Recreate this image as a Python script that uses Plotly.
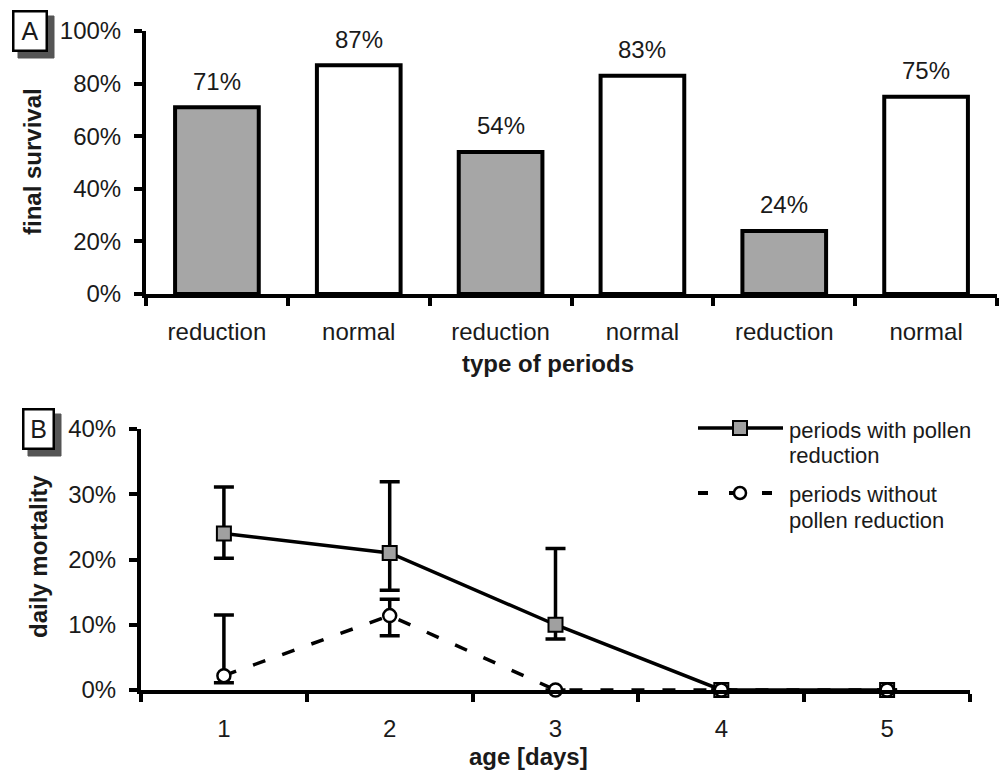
import plotly.graph_objects as go

# ---------- data ----------
bar_labels = ["reduction", "normal", "reduction", "normal", "reduction", "normal"]
bar_values = [71, 87, 54, 83, 24, 75]
bar_colors = ["#a6a6a6", "#ffffff", "#a6a6a6", "#ffffff", "#a6a6a6", "#ffffff"]

days = [1, 2, 3, 4, 5]
red_mean = [24.0, 21.0, 10.0, 0.0, 0.0]
red_upper = [31.1, 31.9, 21.7, None, None]
red_lower = [20.2, 15.3, 7.8, None, None]

norm_mean = [2.2, 11.4, 0.0, 0.0, 0.0]
norm_upper = [11.5, 13.9, None, None, None]
norm_lower = [1.1, 8.3, None, None, None]

W, H = 1006, 772
FONT = "Liberation Sans, Arial, sans-serif"
TXT = "#1a1a1a"
FS = 24
LW = 4


def px(x):
    return x / W


def py(y):
    return 1 - y / H


def err(mean, up, lo):
    plus = [(u - m) if u is not None else None for m, u in zip(mean, up)]
    minus = [(m - l) if l is not None else None for m, l in zip(mean, lo)]
    return plus, minus


fig = go.Figure()

# ---------- panel A ----------
xs = list(range(len(bar_values)))
fig.add_trace(go.Bar(
    x=xs, y=bar_values, width=0.59,
    marker=dict(color=bar_colors, line=dict(color="black", width=LW)),
    xaxis="x", yaxis="y", showlegend=False, hoverinfo="skip",
))

# ---------- panel B ----------
rp, rm = err(red_mean, red_upper, red_lower)
npl, nmi = err(norm_mean, norm_upper, norm_lower)

fig.add_trace(go.Scatter(
    x=days, y=red_mean, mode="lines+markers",
    line=dict(color="black", width=3.5),
    marker=dict(symbol="square", size=14, color="#a0a0a0",
                line=dict(color="black", width=2)),
    error_y=dict(type="data", symmetric=False, array=rp, arrayminus=rm,
                 thickness=3.5, width=10, color="black"),
    xaxis="x2", yaxis="y2", showlegend=False, cliponaxis=False,
))
fig.add_trace(go.Scatter(
    x=days, y=norm_mean, mode="lines+markers",
    line=dict(color="black", width=3.5, dash="13px,18px"),
    marker=dict(symbol="circle", size=13, color="white",
                line=dict(color="black", width=2.5)),
    error_y=dict(type="data", symmetric=False, array=npl, arrayminus=nmi,
                 thickness=3.5, width=10, color="black"),
    xaxis="x2", yaxis="y2", showlegend=False, cliponaxis=False,
))

tickfont = dict(family=FONT, size=FS, color=TXT)


def pann(x, y, text, **kw):
    d = dict(x=px(x), y=py(y), xref="paper", yref="paper", text=text,
             showarrow=False, xanchor="center", yanchor="middle",
             font=dict(family=FONT, size=FS, color=TXT))
    d.update(kw)
    return d


annotations = []
# bar value labels
for xi, v in zip(xs, bar_values):
    annotations.append(dict(
        x=xi, y=v, xref="x", yref="y", text=f"{v}%", showarrow=False,
        xanchor="center", yanchor="middle",
        yshift=26, font=dict(family=FONT, size=FS, color=TXT),
    ))

# axis titles
annotations += [
    pann(548, 363, "<b>type of periods</b>"),
    pann(33, 162, "<b>final survival</b>", textangle=-90),
    pann(528, 756, "<b>age [days]</b>"),
    pann(38, 557, "<b>daily mortality</b>", textangle=-90),
]

# panel letters in white bordered boxes
for (x0, y0, x1, y1, letter) in [(12, 10, 48, 52, "A"), (22, 408, 55, 450, "B")]:
    annotations.append(pann((x0 + x1) / 2, (y0 + y1) / 2, letter,
                            width=x1 - x0 - 5, height=y1 - y0 - 5,
                            bgcolor="white", bordercolor="black", borderwidth=2.5,
                            borderpad=0,
                            font=dict(family=FONT, size=25, color=TXT)))

# legend texts
leg_font = dict(family=FONT, size=22, color=TXT)
for txt, yy in [("periods with pollen", 430), ("reduction", 455),
                ("periods without", 495), ("pollen reduction", 520)]:
    annotations.append(pann(787, yy, txt, xanchor="left", font=leg_font))

shapes = []
# drop shadows of the panel letter boxes
for (x0, y0, x1, y1) in [(12, 10, 48, 52), (22, 408, 55, 450)]:
    shapes.append(dict(type="rect", xref="paper", yref="paper", layer="below",
                       x0=px(x0 + 6), x1=px(x1 + 6), y0=py(y1 + 6), y1=py(y0 + 6),
                       fillcolor="#555555", line=dict(color="#555555", width=1)))

# legend symbols
shapes += [
    dict(type="line", xref="paper", yref="paper", x0=px(698), x1=px(783),
         y0=py(428), y1=py(428), line=dict(color="black", width=3.5)),
    dict(type="rect", xref="paper", yref="paper", x0=px(733), x1=px(747),
         y0=py(435), y1=py(421), fillcolor="#a0a0a0", line=dict(color="black", width=2)),
    dict(type="line", xref="paper", yref="paper", x0=px(698), x1=px(708),
         y0=py(493), y1=py(493), line=dict(color="black", width=4)),
    dict(type="line", xref="paper", yref="paper", x0=px(729), x1=px(735),
         y0=py(493), y1=py(493), line=dict(color="black", width=4)),
    dict(type="line", xref="paper", yref="paper", x0=px(762), x1=px(772),
         y0=py(493), y1=py(493), line=dict(color="black", width=4)),
    dict(type="circle", xref="paper", yref="paper", x0=px(734), x1=px(746),
         y0=py(499), y1=py(487), fillcolor="white", line=dict(color="black", width=2.5)),
]

axis_common = dict(showgrid=False, zeroline=False, showline=True, linecolor="black",
                   linewidth=LW, tickfont=tickfont)

fig.update_layout(
    width=W, height=H,
    margin=dict(l=0, r=0, t=0, b=0, autoexpand=False),
    paper_bgcolor="white", plot_bgcolor="white",
    xaxis=dict(domain=[px(146), px(997)], range=[-0.5, 5.5], anchor="y",
               tickmode="array", tickvals=xs, ticktext=bar_labels, ticks="",
               ticklabelstandoff=13, automargin=False,
               minor=dict(tickmode="linear", tick0=-0.5, dtick=1, ticks="outside",
                          ticklen=8, tickwidth=LW, tickcolor="black"),
               **axis_common),
    yaxis=dict(domain=[py(294), py(31)], range=[0, 100], anchor="x",
               tickmode="linear", tick0=0, dtick=20, ticksuffix="%",
               ticks="outside", ticklen=8, tickwidth=LW, tickcolor="black",
               ticklabelstandoff=8, automargin=False, **axis_common),
    xaxis2=dict(domain=[px(141), px(970)], range=[0.5, 5.5], anchor="y2",
                tickmode="array", tickvals=days, ticks="", ticklabelstandoff=14,
                automargin=False,
                minor=dict(tickmode="linear", tick0=0.5, dtick=1, ticks="outside",
                           ticklen=8, tickwidth=LW, tickcolor="black"),
                **axis_common),
    yaxis2=dict(domain=[py(690), py(429)], range=[0, 40], anchor="x2",
                tickmode="linear", tick0=0, dtick=10, ticksuffix="%",
                ticks="outside", ticklen=8, tickwidth=LW, tickcolor="black",
                ticklabelstandoff=8, automargin=False, **axis_common),
    annotations=annotations,
    shapes=shapes,
)

fig.write_html("out.html", config={"displayModeBar": False},
               post_script="document.body.style.margin='0';")
